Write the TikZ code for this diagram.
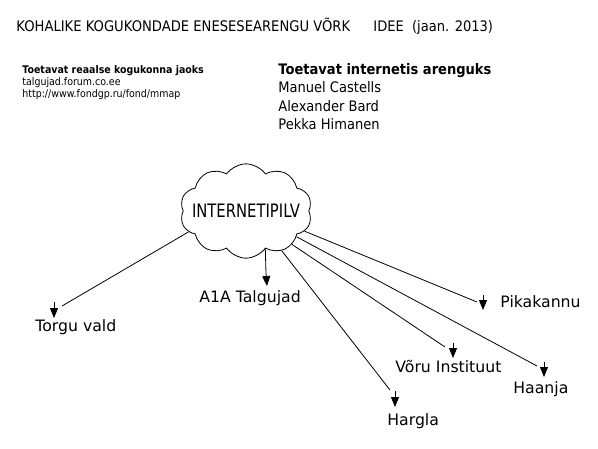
\documentclass[tikz,border=0pt]{standalone}
\usepackage{fontspec}
\setmainfont{DejaVu Sans}[FakeStretch=0.9]
\newfontfamily\cloudfont{DejaVu Sans}[FakeStretch=0.8]
\newfontfamily\handfont{DejaVu Sans}
\usetikzlibrary{arrows.meta,shapes.symbols,positioning}

\begin{document}
\begin{tikzpicture}[x=1pt, y=-1pt, line width=0.8pt,
  every node/.style={inner sep=0pt, anchor=base west},
  place/.style={font=\handfont\fontsize{15.7}{16}\selectfont},
  pin/.style={-{Triangle[width=8pt,length=10pt]}}]
\useasboundingbox (0,0) rectangle (598,448);
\draw
  node at (16,31)(title){\fontsize{14.6}{14}\selectfont KOHALIKE KOGUKONDADE ENESESEARENGU VÕRK}
  node at (373,31)(idea){\fontsize{14.5}{14}\selectfont IDEE\ \ (jaan. 2013)}
  node at (22,73)(realhead){\fontsize{10.5}{12}\selectfont\bfseries Toetavat reaalse kogukonna jaoks}
  node at (22,85)(forum){\fontsize{10.5}{12}\selectfont talgujad.forum.co.ee}
  node at (22,97)(mmap){\fontsize{10.5}{12}\selectfont http://www.fondgp.ru/fond/mmap}
  node at (278,74)(nethead){\fontsize{14.5}{18}\selectfont\bfseries Toetavat internetis arenguks}
  node at (278,92)(castells){\fontsize{14.5}{18}\selectfont Manuel Castells}
  node at (278,111)(bard){\fontsize{14.5}{18}\selectfont Alexander Bard}
  node at (278,129)(himanen){\fontsize{14.5}{18}\selectfont Pekka Himanen}
  node at (246,211)[draw, cloud, cloud puffs=10, cloud puff arc=110,
    minimum width=132pt, minimum height=70pt, anchor=center,
    font=\cloudfont\fontsize{18.5}{18}\selectfont](cloud){\makebox[60pt][c]{INTERNETIPILV}}
  node at (35,331)[place](torgu){Torgu vald}
  node at (199,302)[place](talgujad){A1A Talgujad}
  node at (387,425)[place](hargla){Hargla}
  node at (395,372)[place](voru){Võru Instituut}
  node at (513,393)[place](haanja){Haanja}
  node at (500,307)[place](pikakannu){Pikakannu};
% line ends
\coordinate (eTorgu) at (62,306);
\coordinate (eTalgujad) at (266,273);
\coordinate (eHargla) at (390,390);
\coordinate (eVoru) at (445,347);
\coordinate (eHaanja) at (537,366);
\coordinate (ePikakannu) at (477,302);
\draw (cloud.200) -- (eTorgu);
\draw (cloud.-63) -- (eTalgujad);
\draw (cloud.-48) -- (eHargla);
\draw (cloud.-36) -- (eVoru);
\draw (cloud.-27) -- (eHaanja);
\draw (cloud.-19) -- (ePikakannu);
% down pins
\draw[pin] (54,302) -- ++(0,16);
\draw[pin] (eTalgujad) -- ++(1,13);
\draw[pin] (395,391) -- ++(0,16);
\draw[pin] (453,343) -- ++(0,15);
\draw[pin] (544,362) -- ++(0,15);
\draw[pin] (483,295) -- ++(0,15);
\end{tikzpicture}
\end{document}
